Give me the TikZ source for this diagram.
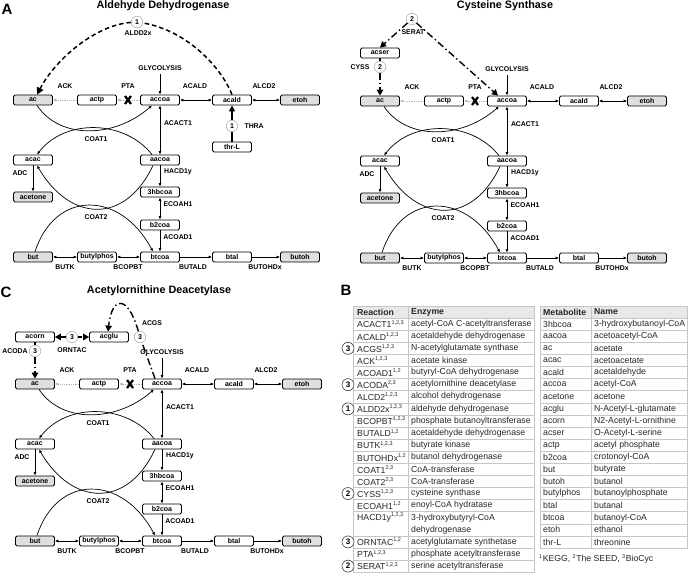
\documentclass[tikz,border=0pt]{standalone}
\usepackage{fontspec}
\setmainfont{Liberation Sans}
\usetikzlibrary{arrows.meta,calc,positioning}

\tikzset{
  met/.style={draw, rounded corners=1.5pt, line width=0.8pt, minimum width=39pt, minimum height=10pt, inner sep=0pt, fill=white, font=\bfseries\fontsize{7}{8}\selectfont},
  extmet/.style={met, fill=gray!25},
  rlab/.style={font=\bfseries\fontsize{6.9}{8}\selectfont},
  rxn/.style={line width=0.7pt, -{Latex[length=3.5pt,width=3pt]}},
  rrxn/.style={line width=0.7pt, {Latex[length=3.5pt,width=3pt]}-{Latex[length=3.5pt,width=3pt]}},
  lost/.style={draw=gray!60, line width=0.9pt, dash pattern=on 0.9pt off 0.9pt, -{Latex[length=3.5pt,width=3pt]}},
  gene/.style={circle, draw=gray!60, fill=white, line width=0.6pt, minimum size=11.5pt, inner sep=0pt, font=\bfseries\fontsize{7}{8}\selectfont},
  gain/.style={line width=1.5pt, dash pattern=on 4.5pt off 3pt, -{Triangle[length=7pt,width=7pt]}},
  gaindot/.style={line width=1.4pt, dash pattern=on 7pt off 3pt on 1.4pt off 3pt, -{Triangle[length=6pt,width=6.5pt]}},
  title/.style={font=\bfseries\fontsize{10.8}{12}\selectfont},
  panel/.style={font=\bfseries\fontsize{15}{16}\selectfont},
  cell/.style={anchor=west, inner sep=0pt, font=\fontsize{8.7}{10}\selectfont, text=black!85},
  head/.style={cell, font=\bfseries\fontsize{8.7}{10}\selectfont},
  tline/.style={draw=gray!45, line width=0.5pt},
}

\newcommand{\src}[1]{\textsuperscript{\fontsize{5.5}{6}\selectfont #1}}

% shared network of the three panels
\newcommand{\corenet}{
  \node[extmet] (ac) at (33,100) {ac};
  \node[met] (actp) at (97,100) {actp};
  \node[met] (accoa) at (160,100) {accoa};
  \node[met] (acald) at (232,100) {acald};
  \node[extmet] (etoh) at (300,100) {etoh};
  \node[met] (acac) at (33,160) {acac};
  \node[met] (aacoa) at (160,160) {aacoa};
  \node[extmet] (acetone) at (33,197) {acetone};
  \node[met] (hbcoa) at (160,192) {3hbcoa};
  \node[met] (b2coa) at (160,225) {b2coa};
  \node[extmet] (but) at (33,257) {but};
  \node[met] (butylphos) at (97,257) {butylphos};
  \node[met] (btcoa) at (160,257) {btcoa};
  \node[met] (btal) at (232,257) {btal};
  \node[extmet] (butoh) at (300,257) {butoh};
  % reaction names
  \node[rlab] (ack) at (65,86) {ACK};
  \node[rlab] (pta) at (128,86) {PTA};
  \node[rlab] (acaldr) at (195,86) {ACALD};
  \node[rlab] (alcd) at (264,86) {ALCD2};
  \node[rlab] (glyc) at (160,68) {GLYCOLYSIS};
  \node[rlab] (acact) at (178,123) {ACACT1};
  \node[rlab] (coat1) at (96,139) {COAT1};
  \node[rlab] (adc) at (20,173) {ADC};
  \node[rlab] (hacd) at (178,172) {HACD1y};
  \node[rlab] (ecoah) at (178,204) {ECOAH1};
  \node[rlab] (coat2) at (96,217) {COAT2};
  \node[rlab] (acoad) at (178,237) {ACOAD1};
  \node[rlab] (butk) at (65,267) {BUTK};
  \node[rlab] (bcopbt) at (128,267) {BCOPBT};
  \node[rlab] (butald) at (193,267) {BUTALD};
  \node[rlab] (butohdx) at (265,267) {BUTOHDx};
  % connectors
  \draw[lost] (actp) -- (ac);
  \draw[lost] (accoa) -- (actp);
  \draw[line width=2.2pt] (125,96) -- (131,104) (125,104) -- (131,96);
  \draw[rrxn] (accoa) -- (acald);
  \draw[rrxn] (acald) -- (etoh);
  \draw[rxn] (glyc) -- (accoa);
  \draw[rrxn] (accoa) -- (aacoa);
  \draw[rxn] (aacoa) -- (hbcoa);
  \draw[rrxn] (hbcoa) -- (b2coa);
  \draw[rxn] (b2coa) -- (btcoa);
  \draw[rxn] (acac) -- (acetone);
  \draw[rrxn] (but) -- (butylphos);
  \draw[rrxn] (butylphos) -- (btcoa);
  \draw[rxn] (btcoa) -- (btal);
  \draw[rxn] (btal) -- (butoh);
  \draw[rxn] ([xshift=4pt]ac.south) .. controls (60,140) and (115,138) .. ([xshift=-8pt]accoa.south);
  \draw[rxn] ([xshift=-8pt]aacoa.north) .. controls (125,120) and (65,118) .. ([xshift=4pt]acac.north);
  \draw[rxn] ([xshift=-7pt]aacoa.south) .. controls (125,225) and (70,222) .. ([xshift=4pt]acac.south);
  \draw[rxn] ([xshift=2pt]but.north) .. controls (55,190) and (120,190) .. ([xshift=-7pt]btcoa.north);
}

\begin{document}
\begin{tikzpicture}[x=1pt, y=-1pt]
\useasboundingbox (0,0) rectangle (691,577);

% A
\node[panel] (lab-a) at (7,9) {A};
\node[title] (ttl-a) at (163,6) {Aldehyde Dehydrogenase};
\begin{scope}[name prefix=a-]
  \corenet
  \node[met] (thrl) at (232,147) {thr-L};
  \draw[line width=1.3pt, -{Triangle[length=6pt,width=6pt]}] (thrl) -- (acald);
  \node[gene] (g-thra) at (232,126) {1};
  \node[rlab, anchor=west] (thra) at (241,126) {THRA};
  \node[gene] (g-aldd) at (137,22) {1};
  \node[rlab] (aldd) at (138,33) {ALDD2x};
  \draw[gain] (acald.north) .. controls (220,65) and (185,30) .. (g-aldd)
    .. controls (95,25) and (55,60) .. ([xshift=4pt]ac.north);
\end{scope}

% Cysteine synthase
\node[title] (ttl-b) at (505,6) {Cysteine Synthase};
\begin{scope}[shift={(347,1)}, name prefix=b-]
  \corenet
  \node[met] (acser) at (33,52) {acser};
  \node[gene] (g-serat) at (65,18) {2};
  \node[rlab] (serat) at (66,31) {SERAT};
  \draw[gaindot] (g-serat) -- (acser.north);
  \draw[gaindot] (g-serat) -- ([xshift=-9pt]accoa.north);
  \draw[gaindot] (acser) -- (ac);
  \node[gene] (g-cyss) at (33,66) {2};
  \node[rlab] (cyss) at (13,66) {CYSS};
\end{scope}

% C
\node[panel] (lab-c) at (6,292) {C};
\node[title] (ttl-c) at (159,291) {Acetylornithine Deacetylase};
\begin{scope}[shift={(2,284)}, name prefix=c-]
  \corenet
  \node[met] (acorn) at (33,53) {acorn};
  \node[met] (acglu) at (107,53) {acglu};
  \draw[gaindot, {Triangle[length=6pt,width=6.5pt]}-{Triangle[length=6pt,width=6.5pt]}] (acorn) -- (acglu);
  \node[gene] (g-orntac) at (70,53) {3};
  \node[rlab] (orntac) at (70,66) {ORNTAC};
  \draw[gaindot] (acorn) -- (ac);
  \node[gene] (g-acoda) at (33,67) {3};
  \node[rlab] (acoda) at (13,67) {ACODA};
  \node[gene] (g-acgs) at (138,53) {3};
  \node[rlab] (acgs) at (150,39) {ACGS};
  \draw[gaindot] ([xshift=-7pt]accoa.north) -- (g-acgs)
    .. controls (126,11) and (110,11) .. ([xshift=-1pt]acglu.north);
\end{scope}

% B: tables
\node[panel] (lab-b) at (346,290) {B};
\fill[gray!18] (353,306) rectangle (534,318.1);
\foreach \i in {1,...,17,19,20,21}
  \draw[tline] (353,{306+12.1*\i}) -- (534,{306+12.1*\i});
\draw[tline] (353,306) rectangle (534,{306+12.1*22});
\draw[tline] (408,306) -- (408,{306+12.1*22});
\node[head] (h-rx) at (357,312) {Reaction};
\node[head] (h-en) at (411,312) {Enzyme};
\foreach \i/\r/\s/\e in {
  1/ACACT1/{1,2,3}/acetyl-CoA C-acetyltransferase,
  2/ACALD/{1,2,3}/acetaldehyde dehydrogenase,
  3/ACGS/{1,2,3}/N-acetylglutamate synthase,
  4/ACK/{1,2,3}/acetate kinase,
  5/ACOAD1/{1,2}/butyryl-CoA dehydrogenase,
  6/ACODA/{2,3}/acetylornithine deacetylase,
  7/ALCD2/{1,2,3}/alcohol dehydrogenase,
  8/ALDD2x/{1,2,3}/aldehyde dehydrogenase,
  9/BCOPBT/{1,2,3}/phosphate butanoyltransferase,
  10/BUTALD/{1,2}/acetaldehyde dehydrogenase,
  11/BUTK/{1,2,3}/butyrate kinase,
  12/BUTOHDx/{1,2}/butanol dehydrogenase,
  13/COAT1/{2,3}/CoA-transferase,
  14/COAT2/{2,3}/CoA-transferase,
  15/CYSS/{1,2,3}/cysteine synthase,
  16/ECOAH1/{1,2}/enoyl-CoA hydratase,
  17/HACD1y/{1,2,3}/3-hydroxybutyryl-CoA,
  18/{}/{}/dehydrogenase,
  19/ORNTAC/{1,2}/acetylglutamate synthetase,
  20/PTA/{1,2,3}/phosphate acetyltransferase,
  21/SERAT/{1,2,3}/serine acetyltransferase}{
  \node[cell] (rx-\i) at (357,{306+12.1*\i+6.05}) {\r\src{\s}};
  \node[cell] (en-\i) at (411,{306+12.1*\i+6.05}) {\e};
}
\foreach \i/\k in {3/3,6/3,8/1,15/2,19/3,21/2}
  \node[gene, draw=black!75, minimum size=12pt, font=\bfseries\fontsize{8}{9}\selectfont] (tc-\i) at (348,{306+12.1*\i+6.05}) {\k};

\fill[gray!18] (540,306) rectangle (687,318.1);
\foreach \i in {1,...,19}
  \draw[tline] (540,{306+12.1*\i}) -- (687,{306+12.1*\i});
\draw[tline] (540,306) rectangle (687,{306+12.1*20});
\draw[tline] (591,306) -- (591,{306+12.1*20});
\node[head] (h-met) at (543,312) {Metabolite};
\node[head] (h-nm) at (594,312) {Name};
\foreach \i/\m/\n in {
  1/3hbcoa/3-hydroxybutanoyl-CoA,
  2/aacoa/acetoacetyl-CoA,
  3/ac/acetate,
  4/acac/acetoacetate,
  5/acald/acetaldehyde,
  6/accoa/acetyl-CoA,
  7/acetone/acetone,
  8/acglu/N-Acetyl-L-glutamate,
  9/acorn/N2-Acetyl-L-ornithine,
  10/acser/O-Acetyl-L-serine,
  11/actp/acetyl phosphate,
  12/b2coa/crotonoyl-CoA,
  13/but/butyrate,
  14/butoh/butanol,
  15/butylphos/butanoylphosphate,
  16/btal/butanal,
  17/btcoa/butanoyl-CoA,
  18/etoh/ethanol,
  19/thr-L/threonine}{
  \node[cell] (mt-\i) at (543,{306+12.1*\i+6.05}) {\m};
  \node[cell] (nm-\i) at (594,{306+12.1*\i+6.05}) {\n};
}
\node[cell] (refs) at (539,559) {\src{1}KEGG, \src{2}The SEED, \src{3}BioCyc};
\end{tikzpicture}
\end{document}
